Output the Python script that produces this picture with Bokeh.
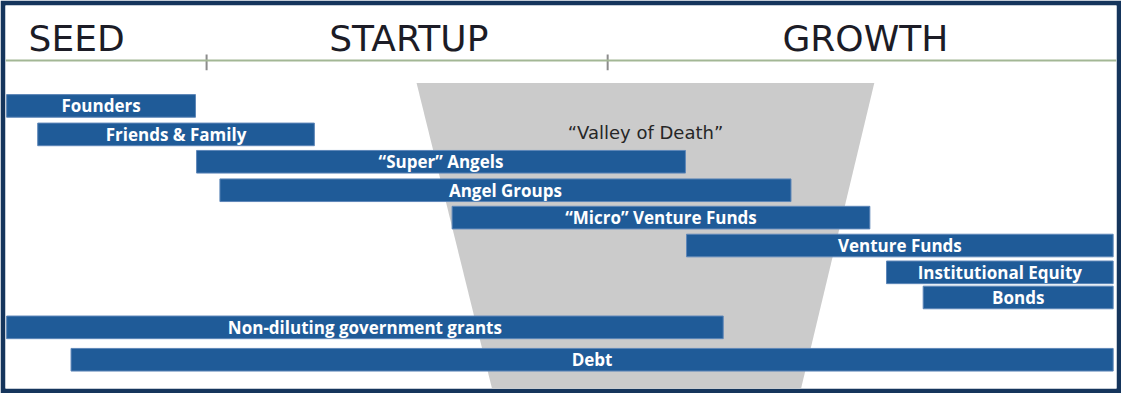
from bokeh.plotting import figure
from bokeh.models import ColumnDataSource, Range1d, Span
from bokeh.core.properties import value
from bokeh.embed import file_html
from bokeh.resources import INLINE

# ---- data (timeline from 0 = earliest to 100 = most mature) ----
sources = ["Founders", "Friends & Family", "\u201cSuper\u201d Angels", "Angel Groups",
           "\u201cMicro\u201d Venture Funds", "Venture Funds", "Institutional Equity",
           "Bonds", "Non-diluting government grants", "Debt"]
start = [0.1, 2.9, 17.2, 19.3, 40.2, 61.3, 79.3, 82.6, 0.1, 5.9]
end = [17.1, 27.8, 61.2, 70.7, 77.8, 99.7, 99.7, 99.7, 64.6, 99.7]

stages = ["SEED", "STARTUP", "GROWTH"]
stage_label_x = [6.4, 36.3, 77.4]
stage_bounds = [18.1, 54.2]

valley_label = "\u201cValley of Death\u201d"
valley_top = [37.0, 78.2]
valley_bottom = [43.9, 71.5]

# ---- layout ----
row_y = [0.0, 1.02, 2.0, 3.02, 4.0, 5.0, 5.96, 6.86, 7.93, 9.09]
bar_h = 0.81

BAR = "#1f5b98"
NAVY = "#15355c"

p = figure(width=1121, height=393, x_range=Range1d(0, 100), y_range=Range1d(10.12, -3.596),
           output_backend="svg", toolbar_location=None,
           x_axis_location=None, y_axis_location=None)
p.min_border_left = 5
p.min_border_right = 5
p.min_border_top = 5
p.min_border_bottom = 5
p.border_fill_color = NAVY
p.background_fill_color = "white"
p.outline_line_color = None
p.grid.visible = False

# valley of death trapezoid
p.patch([valley_top[0], valley_top[1], valley_bottom[1], valley_bottom[0]],
        [-0.82, -0.82, 10.3, 10.3], fill_color="#cbcbcb", line_color=None)
p.text(x=[(valley_top[0] + valley_top[1]) / 2], y=[0.965], text=[valley_label],
       text_font=value("DejaVu Sans"), text_font_size="18px", text_color="#262626",
       text_align="center", text_baseline="alphabetic")

# stage header line and ticks
p.add_layout(Span(location=-1.63, dimension="width", line_color="#a3b795", line_width=2))
p.segment(x0=stage_bounds, x1=stage_bounds, y0=[-1.84] * len(stage_bounds),
          y1=[-1.28] * len(stage_bounds), line_color="#8c8c8c", line_width=2)
p.text(x=stage_label_x, y=[-2.40] * 3, text=stages, text_font=value("DejaVu Sans"),
       text_font_size="36px", text_color="#1c1c26", text_align="center",
       text_baseline="alphabetic")

# bars
src = ColumnDataSource(dict(
    left=start, right=end, y=row_y, name=sources,
    mid=[(a + b) / 2 for a, b in zip(start, end)]))
p.hbar(y="y", left="left", right="right", height=bar_h, source=src,
       fill_color=BAR, line_color="#5d86b8", line_width=1)
p.text(x="mid", y="y", text="name", source=src, text_font=value("Open Sans"),
       text_font_style="bold", text_font_size="17px", text_color="white",
       text_align="center", text_baseline="middle")

open("out.html", "w").write(file_html(p, INLINE))
